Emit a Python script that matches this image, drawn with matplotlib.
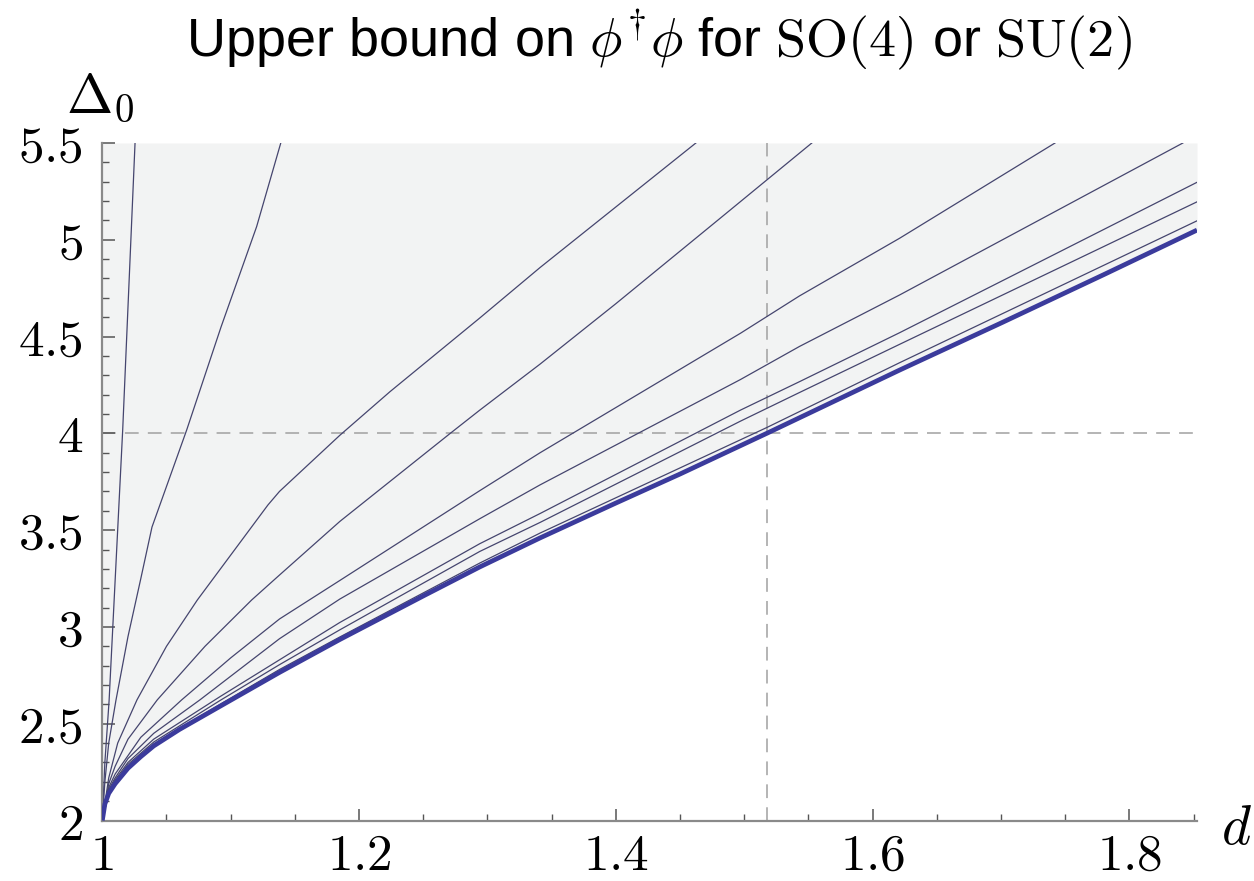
import matplotlib
matplotlib.use('Agg')
import matplotlib.pyplot as plt
from matplotlib.ticker import MultipleLocator, FixedLocator

plt.rcParams['mathtext.fontset'] = 'cm'
plt.rcParams['font.family'] = ['Liberation Sans', 'DejaVu Sans']

# ---------------- data ----------------
bound_d = [1.0, 1.002, 1.005, 1.01, 1.02, 1.03, 1.04, 1.06, 1.0917, 1.138, 1.185, 1.25,
           1.294, 1.341, 1.40, 1.45, 1.5175, 1.621, 1.70, 1.78, 1.8526]
bound_D = [2.0, 2.085, 2.14, 2.19, 2.27, 2.33, 2.385, 2.47, 2.59, 2.765, 2.935, 3.16,
           3.31, 3.46, 3.64, 3.79, 4.0, 4.327, 4.57, 4.82, 5.05]

c1_d = [1.0, 1.002, 1.0053, 1.0159, 1.0255]
c1_D = [2.0, 2.30, 2.62, 4.02, 5.5]

c2_d = [1.0, 1.002, 1.005, 1.0106, 1.02, 1.03, 1.0387, 1.0657, 1.0925, 1.1202, 1.139]
c2_D = [2.0, 2.20, 2.40, 2.62, 2.95, 3.25, 3.516, 4.017, 4.55, 5.068, 5.5]

c3_d = [1.0, 1.005, 1.012, 1.027, 1.05, 1.074, 1.129, 1.138, 1.185, 1.224, 1.294, 1.341, 1.4623]
c3_D = [2.0, 2.22, 2.40, 2.623, 2.90, 3.139, 3.63, 3.70, 3.99, 4.215, 4.596, 4.857, 5.5]

c4_d = [1.0, 1.005, 1.01, 1.02, 1.0428, 1.08, 1.1163, 1.138, 1.185, 1.271, 1.294, 1.341, 1.40, 1.481, 1.5526]
c4_D = [2.0, 2.19, 2.28, 2.42, 2.623, 2.90, 3.139, 3.268, 3.545, 4.0, 4.12, 4.358, 4.67, 5.11, 5.5]

c5_d = [1.0, 1.005, 1.01, 1.03, 1.0618, 1.10, 1.138, 1.185, 1.294, 1.341, 1.497, 1.543, 1.621, 1.742]
c5_D = [2.0, 2.17, 2.24, 2.43, 2.623, 2.84, 3.041, 3.24, 3.704, 3.90, 4.517, 4.71, 5.008, 5.5]

c6_d = [1.0, 1.005, 1.01, 1.02, 1.04, 1.076, 1.138, 1.185, 1.294, 1.341, 1.497, 1.543, 1.621, 1.8416]
c6_D = [2.0, 2.16, 2.22, 2.32, 2.45, 2.623, 2.939, 3.144, 3.559, 3.734, 4.278, 4.449, 4.715, 5.5]

c7_d = [1.0, 1.005, 1.01, 1.02, 1.04, 1.0917, 1.138, 1.185, 1.294, 1.341, 1.497, 1.543, 1.621, 1.8526]
c7_D = [2.0, 2.15, 2.21, 2.30, 2.42, 2.64, 2.83, 3.023, 3.43, 3.586, 4.12, 4.267, 4.52, 5.297]

c8_d = [1.0, 1.005, 1.01, 1.02, 1.04, 1.0917, 1.138, 1.185, 1.294, 1.341, 1.497, 1.543, 1.621, 1.8526]
c8_D = [2.0, 2.145, 2.20, 2.29, 2.405, 2.62, 2.805, 2.985, 3.39, 3.54, 4.063, 4.211, 4.46, 5.196]

c9_d = [1.0, 1.005, 1.01, 1.02, 1.04, 1.0917, 1.138, 1.185, 1.294, 1.341, 1.5175, 1.621, 1.8526]
c9_D = [2.0, 2.142, 2.195, 2.28, 2.395, 2.60, 2.78, 2.948, 3.33, 3.485, 4.03, 4.365, 5.098]

thin_curves = [(c1_d, c1_D), (c2_d, c2_D), (c3_d, c3_D), (c4_d, c4_D), (c5_d, c5_D),
               (c6_d, c6_D), (c7_d, c7_D), (c8_d, c8_D), (c9_d, c9_D)]

ref_Delta = 4.0
ref_d = 1.5175

x_major = [1.0, 1.2, 1.4, 1.6, 1.8]
x_labels = ['1', '1.2', '1.4', '1.6', '1.8']
y_major = [2.0, 2.5, 3.0, 3.5, 4.0, 4.5, 5.0, 5.5]
y_labels = ['2', '2.5', '3', '3.5', '4', '4.5', '5', '5.5']

xmin, xmax = 1.0, 1.8526
ymin, ymax = 2.0, 5.5

# ---------------- figure ----------------
fig = plt.figure(figsize=(12.54, 8.81), dpi=100)
ax = fig.add_axes([102.3 / 1254, 1 - 820.5 / 881, (1197 - 102.3) / 1254, (820.5 - 143) / 881])

ax.fill_between(bound_d, bound_D, ymax, color='#f2f3f3', linewidth=0, zorder=0)

ax.axhline(ref_Delta, color='#a0a0a0', lw=1.1, dashes=(9, 6), zorder=1)
ax.axvline(ref_d, color='#a0a0a0', lw=1.1, dashes=(9, 6), zorder=1)

for cd, cD in thin_curves:
    ax.plot(cd, cD, color='#45456e', lw=0.9, zorder=2)

ax.plot(bound_d, bound_D, color='#3b3b9c', lw=3.4, zorder=3, solid_capstyle='butt')

ax.set_xlim(xmin, xmax)
ax.set_ylim(ymin, ymax)

for s in ['top', 'right']:
    ax.spines[s].set_visible(False)
for s in ['left', 'bottom']:
    ax.spines[s].set_color('#8a8a8a')
    ax.spines[s].set_linewidth(1.6)

ax.xaxis.set_major_locator(FixedLocator(x_major))
ax.set_xticklabels(['$' + t + '$' for t in x_labels])
ax.yaxis.set_major_locator(FixedLocator(y_major))
ax.set_yticklabels(['$' + t + '$' for t in y_labels])
ax.xaxis.set_minor_locator(MultipleLocator(0.05))
ax.yaxis.set_minor_locator(MultipleLocator(0.1))

ax.tick_params(which='major', direction='in', length=9, width=1.1, color='#555555',
               labelsize=37, pad=8)
ax.tick_params(which='minor', direction='in', length=5, width=1.0, color='#555555')
ax.tick_params(axis='y', which='major', pad=14)

fig.text(100 / 1254, 1 - 98 / 881, r'$\Delta_0$', fontsize=40, ha='center', va='center')
fig.text(1236 / 1254, 1 - 830 / 881, r'$d$', fontsize=40, ha='center', va='center')

fig.text(659 / 1254, 1 - 40 / 881,
         r'Upper bound on $\phi^{\dagger}\phi$ for $\mathrm{SO}(4)$ or $\mathrm{SU}(2)$',
         fontsize=39, ha='center', va='center')

fig.savefig('out.png', dpi=100)
